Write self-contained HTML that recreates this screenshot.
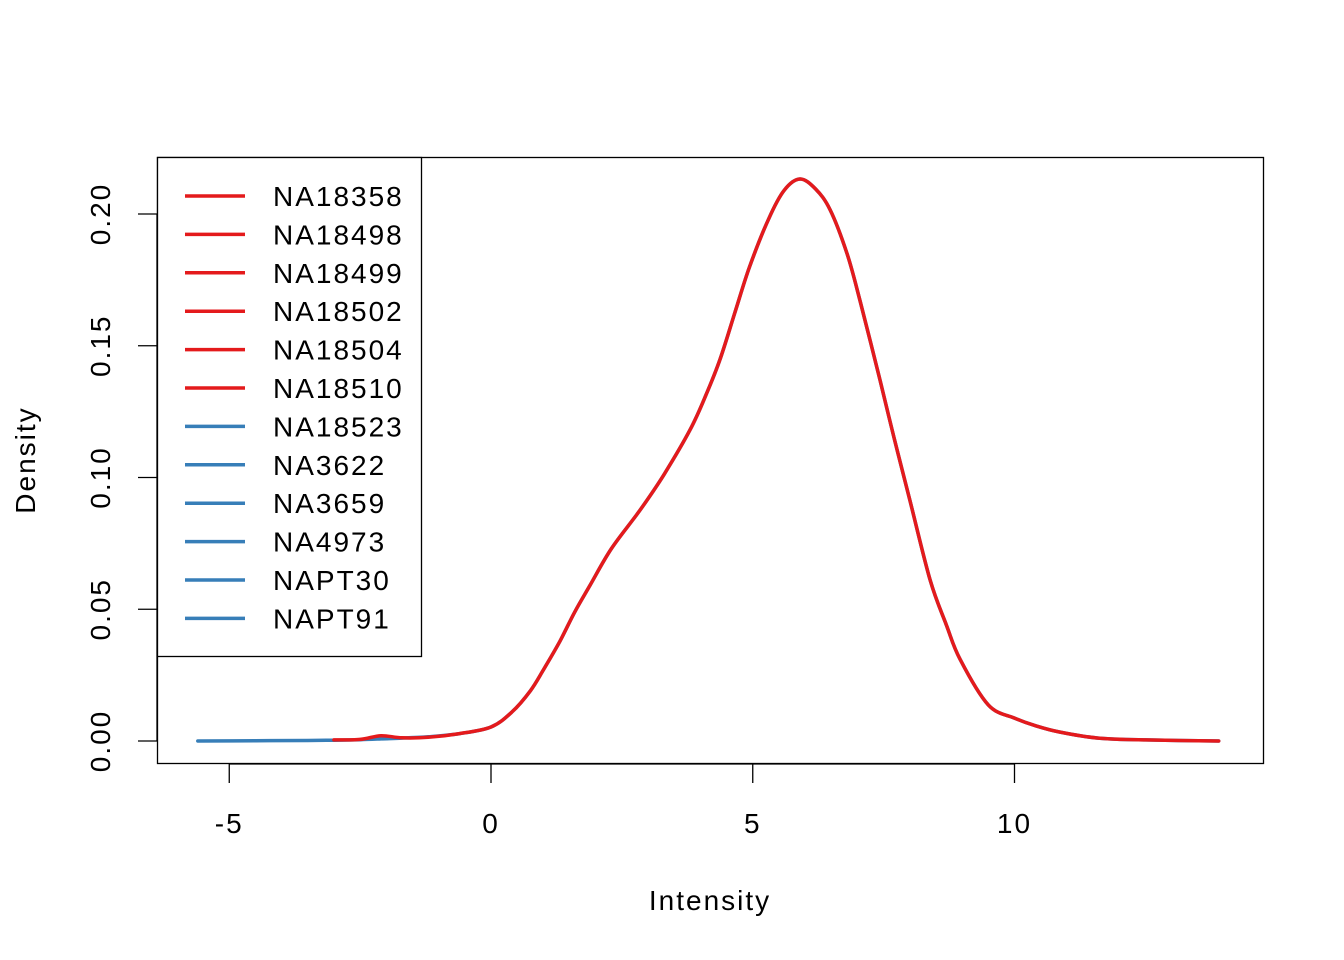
<!DOCTYPE html>
<html><head><meta charset="utf-8"><style>
html,body{margin:0;padding:0;background:#fff}
svg{display:block;font-family:"Liberation Sans",Arial,sans-serif}
text{letter-spacing:2px}
</style></head><body>
<svg id="chart" width="1344" height="960"></svg>
<script>
const xs =      [-5.6,-4.5,-3.5,-3.0,-2.5,-2.1,-1.7,-1.2,-0.6,0.0,0.4,0.75,1.0,1.32,1.6,1.89,2.3,2.85,3.3,3.8,4.1,4.37,4.65,4.94,5.3,5.6,5.9,6.2,6.48,6.8,7.05,7.43,7.7,8.0,8.39,8.7,8.96,9.5,10.0,10.4,10.86,11.6,12.5,13.9];
const redVals = [null,null,null,0.0004,0.0006,0.002,0.0012,0.0014,0.0028,0.0053,0.011,0.019,0.027,0.038,0.049,0.059,0.073,0.0877,0.101,0.118,0.131,0.1446,0.162,0.180,0.198,0.209,0.2133,0.2095,0.2015,0.185,0.167,0.137,0.115,0.0915,0.061,0.044,0.031,0.0137,0.0087,0.0058,0.0034,0.0011,0.0004,0.0];
const blueVals= [0.0,0.0001,0.0002,0.0003,0.0005,0.0008,0.0011,0.0016,0.0028,0.0053,0.011,0.019,0.027,0.038,0.049,0.059,0.073,0.0877,0.101,0.118,0.131,0.1446,0.162,0.180,0.198,0.209,0.2133,0.2095,0.2015,0.185,0.167,0.137,0.115,0.0915,0.061,0.044,0.031,0.0137,0.0087,0.0058,0.0034,0.0011,0.0004,0.0];
const xTicks = [-5,0,5,10];
const yTicks = [0,0.05,0.10,0.15,0.20];
const yTickLabels = ["0.00","0.05","0.10","0.15","0.20"];
const legendNames = ["NA18358","NA18498","NA18499","NA18502","NA18504","NA18510","NA18523","NA3622","NA3659","NA4973","NAPT30","NAPT91"];
const legendGroups = ["r","r","r","r","r","r","b","b","b","b","b","b"];

const RED="#E41A1C", BLUE="#377EB8";
const sx = v => 491 + (v-0)*52.35;
const sy = v => 741 - v*2635;
const svg = document.getElementById('chart');
const NS="http://www.w3.org/2000/svg";
function mk(tag, attrs, parent){const e=document.createElementNS(NS,tag);for(const k in attrs)e.setAttribute(k,attrs[k]);(parent||svg).appendChild(e);return e;}

const box = mk('rect',{x:157.5,y:157.5,width:1106,height:606,fill:'none',stroke:'#000','stroke-width':1.3});



const xa = mk('g',{});


mk('line',{x1:sx(xTicks[0]),x2:sx(xTicks[xTicks.length-1]),y1:764,y2:764,stroke:'#000','stroke-width':1.3},xa);
xTicks.forEach(t=>{
  mk('line',{x1:sx(t),x2:sx(t),y1:764,y2:783,stroke:'#000','stroke-width':1.3},xa);
  const tx=mk('text',{x:sx(t),y:833,'font-size':28,'text-anchor':'middle'},xa);
  tx.textContent=String(t);
  
  
});
const ya = mk('g',{});


mk('line',{x1:157,x2:157,y1:sy(0),y2:sy(0.2),stroke:'#000','stroke-width':1.3},ya);
yTicks.forEach((t,i)=>{
  mk('line',{x1:138,x2:157,y1:sy(t),y2:sy(t),stroke:'#000','stroke-width':1.3},ya);
  const tx=mk('text',{x:0,y:0,'font-size':28,'text-anchor':'middle',transform:`translate(110,${sy(t)}) rotate(-90)`},ya);
  tx.textContent=yTickLabels[i];
  
  
});
const xt=mk('text',{x:710,y:910,'font-size':28,'text-anchor':'middle'});
xt.textContent='Intensity';


const yt=mk('text',{x:0,y:0,'font-size':28,'text-anchor':'middle',transform:'translate(35,460) rotate(-90)'});
yt.textContent='Density';



function path(vals,col,name){
  const pts=[];
  vals.forEach((v,i)=>{if(v!==null)pts.push([sx(xs[i]),sy(v)]);});
  let d='M'+pts[0][0].toFixed(1)+','+pts[0][1].toFixed(1);
  for(let i=0;i<pts.length-1;i++){
    const p0=pts[Math.max(0,i-1)],p1=pts[i],p2=pts[i+1],p3=pts[Math.min(pts.length-1,i+2)];
    const c1=[p1[0]+(p2[0]-p0[0])/6,p1[1]+(p2[1]-p0[1])/6];
    const c2=[p2[0]-(p3[0]-p1[0])/6,p2[1]-(p3[1]-p1[1])/6];
    d+=`C${c1[0].toFixed(1)},${c1[1].toFixed(1)} ${c2[0].toFixed(1)},${c2[1].toFixed(1)} ${p2[0].toFixed(1)},${p2[1].toFixed(1)}`;
  }
  const p=mk('path',{d:d,fill:'none',stroke:col,'stroke-width':3.5,'stroke-linejoin':'round','stroke-linecap':'round'});
  
  
}
path(blueVals,BLUE,'density-line-blue-group');
path(redVals,RED,'density-line-red-group');

const lg=mk('g',{});


mk('rect',{x:157.5,y:157.5,width:264,height:499,fill:'#fff',stroke:'#000','stroke-width':1.3},lg);
legendNames.forEach((n,i)=>{
  const y=196+i*38.4;
  const e=mk('g',{},lg);
  
  
  mk('line',{x1:185,x2:245,y1:y,y2:y,stroke:legendGroups[i]==='r'?RED:BLUE,'stroke-width':3.5},e);
  const t=mk('text',{x:273,y:y+10,'font-size':28,'letter-spacing':'2.5px'},e);
  t.textContent=n;
});
</script>
</body></html>
